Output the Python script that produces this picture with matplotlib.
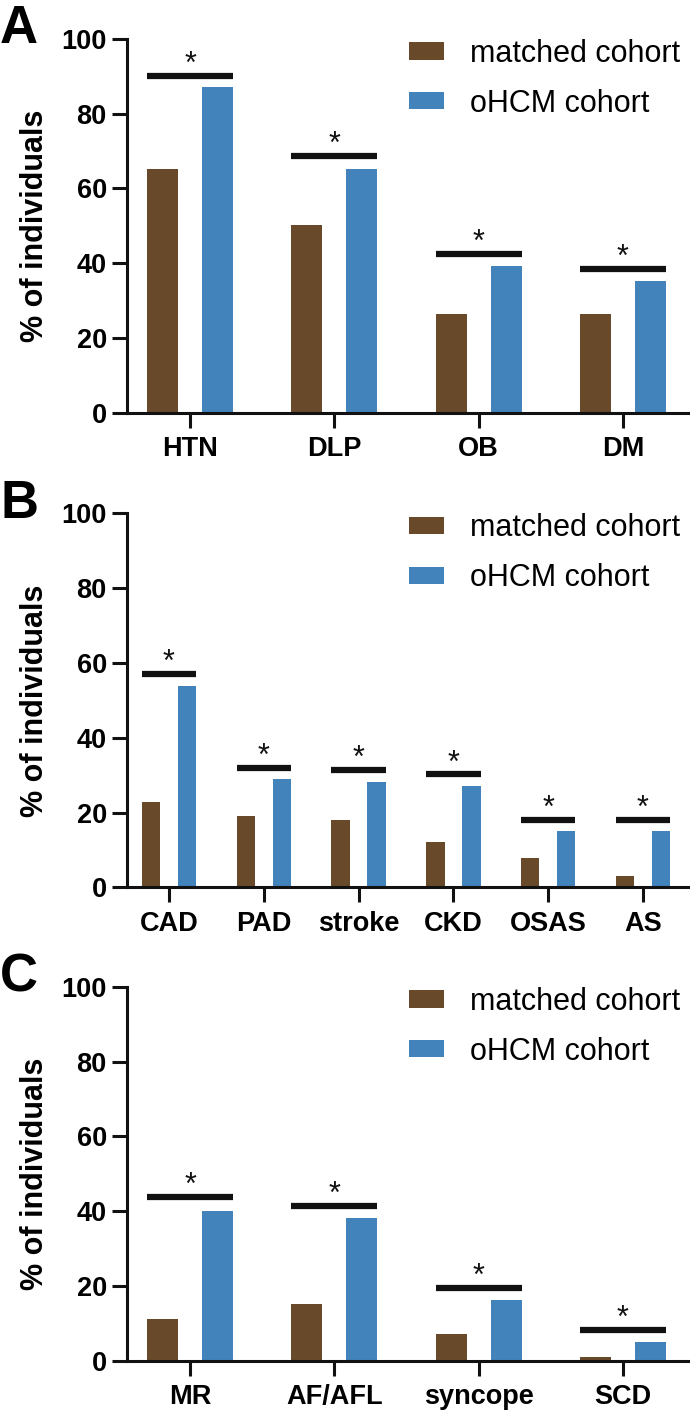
import matplotlib
matplotlib.use('Agg')
import matplotlib.pyplot as plt
import numpy as np

plt.rcParams['font.family'] = ['Liberation Sans', 'DejaVu Sans']

# panel A
cats_a = ['HTN', 'DLP', 'OB', 'DM']
matched_a = [65.2, 50.1, 26.3, 26.3]
ohcm_a = [87.1, 65.2, 39.3, 35.2]
sig_a = [90.1, 68.6, 42.4, 38.4]

# panel B
cats_b = ['CAD', 'PAD', 'stroke', 'CKD', 'OSAS', 'AS']
matched_b = [22.9, 19.1, 18.0, 12.0, 7.9, 3.0]
ohcm_b = [53.9, 29.0, 28.1, 27.2, 15.1, 15.1]
sig_b = [57.0, 32.0, 31.4, 30.2, 18.0, 18.0]

# panel C
cats_c = ['MR', 'AF/AFL', 'syncope', 'SCD']
matched_c = [11.2, 15.1, 7.1, 1.1]
ohcm_c = [40.0, 38.2, 16.2, 5.1]
sig_c = [43.8, 41.5, 19.4, 8.2]

yticks = [0, 20, 40, 60, 80, 100]
brown = '#684A2B'
blue = '#4383BB'

fig = plt.figure(figsize=(6.9, 14.13), dpi=100)

panels = [
    ('A', cats_a, matched_a, ohcm_a, sig_a, 0.7079, 0.215, (-0.437, 3.465)),
    ('B', cats_b, matched_b, ohcm_b, sig_b, 0.3720, 0.195, (-0.443, 5.496)),
    ('C', cats_c, matched_c, ohcm_c, sig_c, 0.0370, 0.215, (-0.437, 3.465)),
]

for letter, cats, m, o, s, bottom, w, xl in panels:
    ax = fig.add_axes([0.184, bottom, 0.816, 0.2647])
    x = np.arange(len(cats))
    off = 0.19
    ax.bar(x - off, m, w, color=brown, label='matched cohort', zorder=2)
    ax.bar(x + off, o, w, color=blue, label='oHCM cohort', zorder=2)
    for xi, h in zip(x, s):
        ax.plot([xi - off - w / 2, xi + off + w / 2], [h, h], color='#111111',
                lw=4.5, solid_capstyle='butt', clip_on=False, zorder=3)
        ax.annotate('*', (xi, h), xytext=(0, -3), textcoords='offset points',
                    ha='center', va='bottom', fontsize=22, color='#111111')
    ax.set_xlim(*xl)
    ax.set_ylim(0, 100)
    ax.set_yticks(yticks)
    ax.set_xticks(x)
    ax.set_xticklabels(cats, fontsize=19.5, fontweight='bold')
    for lab in ax.get_yticklabels():
        lab.set_fontsize(19.5)
        lab.set_fontweight('bold')
    for sp in ['top', 'right']:
        ax.spines[sp].set_visible(False)
    for sp in ['left', 'bottom']:
        ax.spines[sp].set_linewidth(2.2)
        ax.spines[sp].set_color('#111111')
    ax.tick_params(axis='both', width=2.2, length=11, color='#111111')
    ax.tick_params(axis='y', pad=3.5)
    ax.tick_params(axis='x', pad=6)
    ax.set_ylabel('% of individuals', fontsize=22, fontweight='bold')
    ax.yaxis.set_label_coords(-0.137, 0.5)
    ax.legend(loc='upper left', bbox_to_anchor=(0.501, 1.0), frameon=False,
              fontsize=22, handlelength=1.15, handleheight=0.5,
              handletextpad=0.85, labelspacing=0.65, borderpad=0,
              borderaxespad=0)
    fig.text(0.0, bottom + 0.2647 + 0.0245, letter, fontsize=38,
             fontweight='bold', ha='left', va='top')

fig.savefig('out.png', dpi=100)
